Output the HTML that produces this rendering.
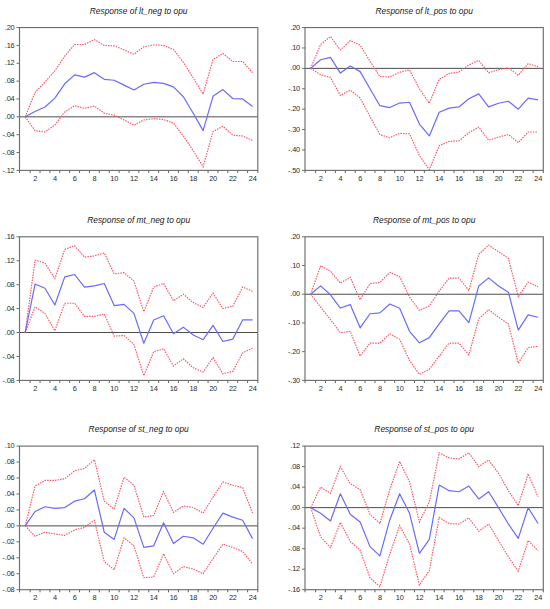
<!DOCTYPE html>
<html><head><meta charset="utf-8"><title>Impulse responses</title>
<style>
html,body{margin:0;padding:0;background:#fff;}
body{width:550px;height:609px;overflow:hidden;}
svg{display:block;}
text{font-family:"Liberation Sans",sans-serif;}
.t{font-size:8.4px;font-style:italic;text-anchor:middle;fill:#202020;}
.yl{font-size:7.4px;letter-spacing:-0.18px;text-anchor:end;fill:#2c2c2c;}
.xl{font-size:7.4px;letter-spacing:-0.18px;text-anchor:middle;fill:#2c2c2c;}
.f{stroke:#6e6e6e;stroke-width:1;}
.fx{stroke:#626262;stroke-width:1;}
.fr{fill:none;stroke:#6e6e6e;stroke-width:1.15;}
.z{stroke:#4c4c4c;stroke-width:1;}
.bl{fill:none;stroke:#6a6aff;stroke-width:1.2;stroke-linejoin:round;}
.rd{fill:none;stroke:#ff5262;stroke-width:1.15;stroke-dasharray:1.5 1.1;}
</style></head>
<body>
<svg width="550" height="609" viewBox="0 0 550 609">
<text x="138.65" y="13.65" class="t">Response of lt_neg to opu</text>
<line x1="16.50" y1="27.55" x2="19.50" y2="27.55" class="f"/>
<text x="14.50" y="29.65" class="yl">.20</text>
<line x1="16.50" y1="45.41" x2="19.50" y2="45.41" class="f"/>
<text x="14.50" y="47.51" class="yl">.16</text>
<line x1="16.50" y1="63.26" x2="19.50" y2="63.26" class="f"/>
<text x="14.50" y="65.36" class="yl">.12</text>
<line x1="16.50" y1="81.12" x2="19.50" y2="81.12" class="f"/>
<text x="14.50" y="83.22" class="yl">.08</text>
<line x1="16.50" y1="98.97" x2="19.50" y2="98.97" class="f"/>
<text x="14.50" y="101.07" class="yl">.04</text>
<line x1="16.50" y1="116.83" x2="19.50" y2="116.83" class="f"/>
<text x="14.50" y="118.93" class="yl">.00</text>
<line x1="16.50" y1="134.69" x2="19.50" y2="134.69" class="f"/>
<text x="14.50" y="136.79" class="yl">-.04</text>
<line x1="16.50" y1="152.54" x2="19.50" y2="152.54" class="f"/>
<text x="14.50" y="154.64" class="yl">-.08</text>
<line x1="16.50" y1="170.40" x2="19.50" y2="170.40" class="f"/>
<text x="14.50" y="172.50" class="yl">-.12</text>
<line x1="19.50" y1="170.40" x2="19.50" y2="173.00" class="fx"/>
<line x1="30.13" y1="170.40" x2="30.13" y2="173.00" class="fx"/>
<line x1="40.02" y1="170.40" x2="40.02" y2="173.00" class="fx"/>
<line x1="49.91" y1="170.40" x2="49.91" y2="173.00" class="fx"/>
<line x1="59.79" y1="170.40" x2="59.79" y2="173.00" class="fx"/>
<line x1="69.67" y1="170.40" x2="69.67" y2="173.00" class="fx"/>
<line x1="79.56" y1="170.40" x2="79.56" y2="173.00" class="fx"/>
<line x1="89.44" y1="170.40" x2="89.44" y2="173.00" class="fx"/>
<line x1="99.33" y1="170.40" x2="99.33" y2="173.00" class="fx"/>
<line x1="109.22" y1="170.40" x2="109.22" y2="173.00" class="fx"/>
<line x1="119.10" y1="170.40" x2="119.10" y2="173.00" class="fx"/>
<line x1="128.99" y1="170.40" x2="128.99" y2="173.00" class="fx"/>
<line x1="138.87" y1="170.40" x2="138.87" y2="173.00" class="fx"/>
<line x1="148.75" y1="170.40" x2="148.75" y2="173.00" class="fx"/>
<line x1="158.64" y1="170.40" x2="158.64" y2="173.00" class="fx"/>
<line x1="168.53" y1="170.40" x2="168.53" y2="173.00" class="fx"/>
<line x1="178.41" y1="170.40" x2="178.41" y2="173.00" class="fx"/>
<line x1="188.29" y1="170.40" x2="188.29" y2="173.00" class="fx"/>
<line x1="198.18" y1="170.40" x2="198.18" y2="173.00" class="fx"/>
<line x1="208.06" y1="170.40" x2="208.06" y2="173.00" class="fx"/>
<line x1="217.95" y1="170.40" x2="217.95" y2="173.00" class="fx"/>
<line x1="227.84" y1="170.40" x2="227.84" y2="173.00" class="fx"/>
<line x1="237.72" y1="170.40" x2="237.72" y2="173.00" class="fx"/>
<line x1="247.60" y1="170.40" x2="247.60" y2="173.00" class="fx"/>
<line x1="257.80" y1="170.40" x2="257.80" y2="173.00" class="fx"/>
<text x="35.18" y="181.00" class="xl">2</text>
<text x="54.95" y="181.00" class="xl">4</text>
<text x="74.72" y="181.00" class="xl">6</text>
<text x="94.49" y="181.00" class="xl">8</text>
<text x="114.26" y="181.00" class="xl">10</text>
<text x="134.03" y="181.00" class="xl">12</text>
<text x="153.80" y="181.00" class="xl">14</text>
<text x="173.57" y="181.00" class="xl">16</text>
<text x="193.34" y="181.00" class="xl">18</text>
<text x="213.11" y="181.00" class="xl">20</text>
<text x="232.88" y="181.00" class="xl">22</text>
<text x="252.65" y="181.00" class="xl">24</text>
<line x1="19.50" y1="116.83" x2="257.80" y2="116.83" class="z"/>
<polyline points="25.19,116.83 35.08,92.28 44.96,82.01 54.85,70.85 64.73,56.12 74.62,44.51 84.50,44.51 94.39,39.60 104.27,45.41 114.16,45.85 124.04,49.87 133.93,54.33 143.81,46.75 153.70,44.96 163.58,45.41 173.47,49.42 183.35,62.37 193.24,77.99 203.12,94.06 213.01,59.69 222.89,53.44 232.78,61.48 242.66,61.48 252.55,72.64" class="rd"/>
<polyline points="25.19,116.83 35.08,130.67 44.96,132.01 54.85,124.87 64.73,111.92 74.62,105.67 84.50,108.35 94.39,106.12 104.27,113.26 114.16,115.05 124.04,119.96 133.93,125.31 143.81,119.96 153.70,118.62 163.58,119.51 173.47,123.08 183.35,136.03 193.24,150.76 203.12,166.83 213.01,131.56 222.89,126.21 232.78,135.13 242.66,136.03 252.55,140.49" class="rd"/>
<polyline points="25.19,116.83 35.08,111.47 44.96,107.01 54.85,98.08 64.73,83.80 74.62,74.87 84.50,77.10 94.39,72.64 104.27,79.33 114.16,80.23 124.04,85.14 133.93,90.05 143.81,84.24 153.70,82.46 163.58,83.35 173.47,86.92 183.35,96.74 193.24,113.26 203.12,130.67 213.01,96.30 222.89,89.60 232.78,98.53 242.66,98.97 252.55,106.56" class="bl"/>
<rect x="19.50" y="27.55" width="238.30" height="142.85" class="fr"/>
<text x="424.15" y="13.65" class="t">Response of lt_pos to opu</text>
<line x1="302.00" y1="27.55" x2="305.00" y2="27.55" class="f"/>
<text x="300.00" y="29.65" class="yl">.20</text>
<line x1="302.00" y1="47.96" x2="305.00" y2="47.96" class="f"/>
<text x="300.00" y="50.06" class="yl">.10</text>
<line x1="302.00" y1="68.36" x2="305.00" y2="68.36" class="f"/>
<text x="300.00" y="70.46" class="yl">.00</text>
<line x1="302.00" y1="88.77" x2="305.00" y2="88.77" class="f"/>
<text x="300.00" y="90.87" class="yl">-.10</text>
<line x1="302.00" y1="109.18" x2="305.00" y2="109.18" class="f"/>
<text x="300.00" y="111.28" class="yl">-.20</text>
<line x1="302.00" y1="129.59" x2="305.00" y2="129.59" class="f"/>
<text x="300.00" y="131.69" class="yl">-.30</text>
<line x1="302.00" y1="149.99" x2="305.00" y2="149.99" class="f"/>
<text x="300.00" y="152.09" class="yl">-.40</text>
<line x1="302.00" y1="170.40" x2="305.00" y2="170.40" class="f"/>
<text x="300.00" y="172.50" class="yl">-.50</text>
<line x1="305.00" y1="170.40" x2="305.00" y2="173.00" class="fx"/>
<line x1="315.63" y1="170.40" x2="315.63" y2="173.00" class="fx"/>
<line x1="325.52" y1="170.40" x2="325.52" y2="173.00" class="fx"/>
<line x1="335.40" y1="170.40" x2="335.40" y2="173.00" class="fx"/>
<line x1="345.29" y1="170.40" x2="345.29" y2="173.00" class="fx"/>
<line x1="355.18" y1="170.40" x2="355.18" y2="173.00" class="fx"/>
<line x1="365.06" y1="170.40" x2="365.06" y2="173.00" class="fx"/>
<line x1="374.94" y1="170.40" x2="374.94" y2="173.00" class="fx"/>
<line x1="384.83" y1="170.40" x2="384.83" y2="173.00" class="fx"/>
<line x1="394.72" y1="170.40" x2="394.72" y2="173.00" class="fx"/>
<line x1="404.60" y1="170.40" x2="404.60" y2="173.00" class="fx"/>
<line x1="414.49" y1="170.40" x2="414.49" y2="173.00" class="fx"/>
<line x1="424.37" y1="170.40" x2="424.37" y2="173.00" class="fx"/>
<line x1="434.25" y1="170.40" x2="434.25" y2="173.00" class="fx"/>
<line x1="444.14" y1="170.40" x2="444.14" y2="173.00" class="fx"/>
<line x1="454.02" y1="170.40" x2="454.02" y2="173.00" class="fx"/>
<line x1="463.91" y1="170.40" x2="463.91" y2="173.00" class="fx"/>
<line x1="473.79" y1="170.40" x2="473.79" y2="173.00" class="fx"/>
<line x1="483.68" y1="170.40" x2="483.68" y2="173.00" class="fx"/>
<line x1="493.56" y1="170.40" x2="493.56" y2="173.00" class="fx"/>
<line x1="503.45" y1="170.40" x2="503.45" y2="173.00" class="fx"/>
<line x1="513.34" y1="170.40" x2="513.34" y2="173.00" class="fx"/>
<line x1="523.22" y1="170.40" x2="523.22" y2="173.00" class="fx"/>
<line x1="533.11" y1="170.40" x2="533.11" y2="173.00" class="fx"/>
<line x1="543.30" y1="170.40" x2="543.30" y2="173.00" class="fx"/>
<text x="320.68" y="181.00" class="xl">2</text>
<text x="340.45" y="181.00" class="xl">4</text>
<text x="360.22" y="181.00" class="xl">6</text>
<text x="379.99" y="181.00" class="xl">8</text>
<text x="399.76" y="181.00" class="xl">10</text>
<text x="419.53" y="181.00" class="xl">12</text>
<text x="439.30" y="181.00" class="xl">14</text>
<text x="459.07" y="181.00" class="xl">16</text>
<text x="478.84" y="181.00" class="xl">18</text>
<text x="498.61" y="181.00" class="xl">20</text>
<text x="518.38" y="181.00" class="xl">22</text>
<text x="538.15" y="181.00" class="xl">24</text>
<line x1="305.00" y1="68.36" x2="543.30" y2="68.36" class="z"/>
<polyline points="310.69,68.36 320.58,44.49 330.46,36.53 340.35,50.00 350.23,40.61 360.12,45.10 370.00,61.22 379.89,76.53 389.77,76.94 399.66,72.24 409.54,69.79 419.43,88.77 429.31,103.26 439.20,79.38 449.08,73.47 458.97,72.04 468.85,64.90 478.74,60.41 488.62,72.85 498.51,69.59 508.39,67.96 518.28,75.30 528.16,63.67 538.05,66.73" class="rd"/>
<polyline points="310.69,68.36 320.58,74.69 330.46,77.34 340.35,95.51 350.23,90.20 360.12,97.95 370.00,116.53 379.89,134.48 389.77,137.75 399.66,133.26 409.54,133.87 419.43,155.50 429.31,169.58 439.20,145.71 449.08,141.42 458.97,140.81 468.85,132.65 478.74,127.14 488.62,140.20 498.51,137.14 508.39,134.48 518.28,142.65 528.16,132.03 538.05,132.03" class="rd"/>
<polyline points="310.69,68.36 320.58,59.79 330.46,57.34 340.35,73.06 350.23,65.92 360.12,71.63 370.00,88.77 379.89,105.71 389.77,107.55 399.66,103.06 409.54,102.24 419.43,124.08 429.31,135.91 439.20,112.24 449.08,108.16 458.97,106.93 468.85,98.77 478.74,93.87 488.62,106.93 498.51,103.26 508.39,101.22 518.28,109.18 528.16,98.16 538.05,99.79" class="bl"/>
<rect x="305.00" y="27.55" width="238.30" height="142.85" class="fr"/>
<text x="138.65" y="222.90" class="t">Response of mt_neg to opu</text>
<line x1="16.50" y1="236.80" x2="19.50" y2="236.80" class="f"/>
<text x="14.50" y="238.90" class="yl">.16</text>
<line x1="16.50" y1="260.73" x2="19.50" y2="260.73" class="f"/>
<text x="14.50" y="262.83" class="yl">.12</text>
<line x1="16.50" y1="284.67" x2="19.50" y2="284.67" class="f"/>
<text x="14.50" y="286.77" class="yl">.08</text>
<line x1="16.50" y1="308.60" x2="19.50" y2="308.60" class="f"/>
<text x="14.50" y="310.70" class="yl">.04</text>
<line x1="16.50" y1="332.53" x2="19.50" y2="332.53" class="f"/>
<text x="14.50" y="334.63" class="yl">.00</text>
<line x1="16.50" y1="356.47" x2="19.50" y2="356.47" class="f"/>
<text x="14.50" y="358.57" class="yl">-.04</text>
<line x1="16.50" y1="380.40" x2="19.50" y2="380.40" class="f"/>
<text x="14.50" y="382.50" class="yl">-.08</text>
<line x1="19.50" y1="380.40" x2="19.50" y2="383.00" class="fx"/>
<line x1="30.13" y1="380.40" x2="30.13" y2="383.00" class="fx"/>
<line x1="40.02" y1="380.40" x2="40.02" y2="383.00" class="fx"/>
<line x1="49.91" y1="380.40" x2="49.91" y2="383.00" class="fx"/>
<line x1="59.79" y1="380.40" x2="59.79" y2="383.00" class="fx"/>
<line x1="69.67" y1="380.40" x2="69.67" y2="383.00" class="fx"/>
<line x1="79.56" y1="380.40" x2="79.56" y2="383.00" class="fx"/>
<line x1="89.44" y1="380.40" x2="89.44" y2="383.00" class="fx"/>
<line x1="99.33" y1="380.40" x2="99.33" y2="383.00" class="fx"/>
<line x1="109.22" y1="380.40" x2="109.22" y2="383.00" class="fx"/>
<line x1="119.10" y1="380.40" x2="119.10" y2="383.00" class="fx"/>
<line x1="128.99" y1="380.40" x2="128.99" y2="383.00" class="fx"/>
<line x1="138.87" y1="380.40" x2="138.87" y2="383.00" class="fx"/>
<line x1="148.75" y1="380.40" x2="148.75" y2="383.00" class="fx"/>
<line x1="158.64" y1="380.40" x2="158.64" y2="383.00" class="fx"/>
<line x1="168.53" y1="380.40" x2="168.53" y2="383.00" class="fx"/>
<line x1="178.41" y1="380.40" x2="178.41" y2="383.00" class="fx"/>
<line x1="188.29" y1="380.40" x2="188.29" y2="383.00" class="fx"/>
<line x1="198.18" y1="380.40" x2="198.18" y2="383.00" class="fx"/>
<line x1="208.06" y1="380.40" x2="208.06" y2="383.00" class="fx"/>
<line x1="217.95" y1="380.40" x2="217.95" y2="383.00" class="fx"/>
<line x1="227.84" y1="380.40" x2="227.84" y2="383.00" class="fx"/>
<line x1="237.72" y1="380.40" x2="237.72" y2="383.00" class="fx"/>
<line x1="247.60" y1="380.40" x2="247.60" y2="383.00" class="fx"/>
<line x1="257.80" y1="380.40" x2="257.80" y2="383.00" class="fx"/>
<text x="35.18" y="391.00" class="xl">2</text>
<text x="54.95" y="391.00" class="xl">4</text>
<text x="74.72" y="391.00" class="xl">6</text>
<text x="94.49" y="391.00" class="xl">8</text>
<text x="114.26" y="391.00" class="xl">10</text>
<text x="134.03" y="391.00" class="xl">12</text>
<text x="153.80" y="391.00" class="xl">14</text>
<text x="173.57" y="391.00" class="xl">16</text>
<text x="193.34" y="391.00" class="xl">18</text>
<text x="213.11" y="391.00" class="xl">20</text>
<text x="232.88" y="391.00" class="xl">22</text>
<text x="252.65" y="391.00" class="xl">24</text>
<line x1="19.50" y1="332.53" x2="257.80" y2="332.53" class="z"/>
<polyline points="25.19,332.53 35.08,260.13 44.96,263.13 54.85,278.68 64.73,249.37 74.62,245.78 84.50,257.14 94.39,255.95 104.27,252.96 114.16,273.90 124.04,272.70 133.93,281.08 143.81,311.59 153.70,287.06 163.58,283.47 173.47,300.82 183.35,294.24 193.24,302.62 203.12,307.40 213.01,293.04 222.89,308.60 232.78,306.21 242.66,287.06 252.55,291.25" class="rd"/>
<polyline points="25.19,332.53 35.08,306.81 44.96,313.39 54.85,330.74 64.73,303.22 74.62,303.22 84.50,316.38 94.39,316.38 104.27,313.99 114.16,336.12 124.04,335.53 133.93,344.50 143.81,375.61 153.70,351.68 163.58,348.69 173.47,366.04 183.35,358.86 193.24,367.84 203.12,372.02 213.01,357.66 222.89,373.82 232.78,371.43 242.66,352.88 252.55,348.09" class="rd"/>
<polyline points="25.19,332.53 35.08,284.07 44.96,288.26 54.85,305.01 64.73,276.89 74.62,274.50 84.50,287.06 94.39,285.86 104.27,283.47 114.16,305.61 124.04,304.41 133.93,313.39 143.81,343.30 153.70,319.97 163.58,315.78 173.47,333.73 183.35,327.15 193.24,334.93 203.12,339.71 213.01,325.35 222.89,341.51 232.78,339.12 242.66,319.97 252.55,319.97" class="bl"/>
<rect x="19.50" y="236.80" width="238.30" height="143.60" class="fr"/>
<text x="424.15" y="222.90" class="t">Response of mt_pos to opu</text>
<line x1="302.00" y1="236.80" x2="305.00" y2="236.80" class="f"/>
<text x="300.00" y="238.90" class="yl">.20</text>
<line x1="302.00" y1="265.52" x2="305.00" y2="265.52" class="f"/>
<text x="300.00" y="267.62" class="yl">.10</text>
<line x1="302.00" y1="294.24" x2="305.00" y2="294.24" class="f"/>
<text x="300.00" y="296.34" class="yl">.00</text>
<line x1="302.00" y1="322.96" x2="305.00" y2="322.96" class="f"/>
<text x="300.00" y="325.06" class="yl">-.10</text>
<line x1="302.00" y1="351.68" x2="305.00" y2="351.68" class="f"/>
<text x="300.00" y="353.78" class="yl">-.20</text>
<line x1="302.00" y1="380.40" x2="305.00" y2="380.40" class="f"/>
<text x="300.00" y="382.50" class="yl">-.30</text>
<line x1="305.00" y1="380.40" x2="305.00" y2="383.00" class="fx"/>
<line x1="315.63" y1="380.40" x2="315.63" y2="383.00" class="fx"/>
<line x1="325.52" y1="380.40" x2="325.52" y2="383.00" class="fx"/>
<line x1="335.40" y1="380.40" x2="335.40" y2="383.00" class="fx"/>
<line x1="345.29" y1="380.40" x2="345.29" y2="383.00" class="fx"/>
<line x1="355.18" y1="380.40" x2="355.18" y2="383.00" class="fx"/>
<line x1="365.06" y1="380.40" x2="365.06" y2="383.00" class="fx"/>
<line x1="374.94" y1="380.40" x2="374.94" y2="383.00" class="fx"/>
<line x1="384.83" y1="380.40" x2="384.83" y2="383.00" class="fx"/>
<line x1="394.72" y1="380.40" x2="394.72" y2="383.00" class="fx"/>
<line x1="404.60" y1="380.40" x2="404.60" y2="383.00" class="fx"/>
<line x1="414.49" y1="380.40" x2="414.49" y2="383.00" class="fx"/>
<line x1="424.37" y1="380.40" x2="424.37" y2="383.00" class="fx"/>
<line x1="434.25" y1="380.40" x2="434.25" y2="383.00" class="fx"/>
<line x1="444.14" y1="380.40" x2="444.14" y2="383.00" class="fx"/>
<line x1="454.02" y1="380.40" x2="454.02" y2="383.00" class="fx"/>
<line x1="463.91" y1="380.40" x2="463.91" y2="383.00" class="fx"/>
<line x1="473.79" y1="380.40" x2="473.79" y2="383.00" class="fx"/>
<line x1="483.68" y1="380.40" x2="483.68" y2="383.00" class="fx"/>
<line x1="493.56" y1="380.40" x2="493.56" y2="383.00" class="fx"/>
<line x1="503.45" y1="380.40" x2="503.45" y2="383.00" class="fx"/>
<line x1="513.34" y1="380.40" x2="513.34" y2="383.00" class="fx"/>
<line x1="523.22" y1="380.40" x2="523.22" y2="383.00" class="fx"/>
<line x1="533.11" y1="380.40" x2="533.11" y2="383.00" class="fx"/>
<line x1="543.30" y1="380.40" x2="543.30" y2="383.00" class="fx"/>
<text x="320.68" y="391.00" class="xl">2</text>
<text x="340.45" y="391.00" class="xl">4</text>
<text x="360.22" y="391.00" class="xl">6</text>
<text x="379.99" y="391.00" class="xl">8</text>
<text x="399.76" y="391.00" class="xl">10</text>
<text x="419.53" y="391.00" class="xl">12</text>
<text x="439.30" y="391.00" class="xl">14</text>
<text x="459.07" y="391.00" class="xl">16</text>
<text x="478.84" y="391.00" class="xl">18</text>
<text x="498.61" y="391.00" class="xl">20</text>
<text x="518.38" y="391.00" class="xl">22</text>
<text x="538.15" y="391.00" class="xl">24</text>
<line x1="305.00" y1="294.24" x2="543.30" y2="294.24" class="z"/>
<polyline points="310.69,294.24 320.58,265.81 330.46,271.26 340.35,283.04 350.23,277.30 360.12,299.70 370.00,283.61 379.89,282.46 389.77,272.41 399.66,276.72 409.54,297.11 419.43,310.32 429.31,306.02 439.20,291.08 449.08,278.16 458.97,278.16 468.85,290.51 478.74,254.32 488.62,245.13 498.51,251.73 508.39,258.34 518.28,296.54 528.16,282.18 538.05,286.77" class="rd"/>
<polyline points="310.69,294.24 320.58,307.16 330.46,319.51 340.35,332.72 350.23,331.29 360.12,355.99 370.00,343.06 379.89,343.06 389.77,333.87 399.66,339.33 409.54,360.58 419.43,374.37 429.31,369.20 439.20,355.99 449.08,343.06 458.97,343.06 468.85,354.84 478.74,318.94 488.62,309.75 498.51,317.22 508.39,323.82 518.28,363.17 528.16,347.66 538.05,346.22" class="rd"/>
<polyline points="310.69,294.24 320.58,285.91 330.46,294.81 340.35,308.03 350.23,304.58 360.12,327.84 370.00,313.77 379.89,312.91 389.77,304.00 399.66,308.31 409.54,331.29 419.43,342.78 429.31,337.61 439.20,323.82 449.08,310.90 458.97,310.90 468.85,322.67 478.74,285.91 488.62,277.87 498.51,285.91 508.39,292.23 518.28,330.14 528.16,314.92 538.05,317.22" class="bl"/>
<rect x="305.00" y="236.80" width="238.30" height="143.60" class="fr"/>
<text x="138.65" y="432.20" class="t">Response of st_neg to opu</text>
<line x1="16.50" y1="446.10" x2="19.50" y2="446.10" class="f"/>
<text x="14.50" y="448.20" class="yl">.10</text>
<line x1="16.50" y1="462.06" x2="19.50" y2="462.06" class="f"/>
<text x="14.50" y="464.16" class="yl">.08</text>
<line x1="16.50" y1="478.01" x2="19.50" y2="478.01" class="f"/>
<text x="14.50" y="480.11" class="yl">.06</text>
<line x1="16.50" y1="493.97" x2="19.50" y2="493.97" class="f"/>
<text x="14.50" y="496.07" class="yl">.04</text>
<line x1="16.50" y1="509.92" x2="19.50" y2="509.92" class="f"/>
<text x="14.50" y="512.02" class="yl">.02</text>
<line x1="16.50" y1="525.88" x2="19.50" y2="525.88" class="f"/>
<text x="14.50" y="527.98" class="yl">.00</text>
<line x1="16.50" y1="541.83" x2="19.50" y2="541.83" class="f"/>
<text x="14.50" y="543.93" class="yl">-.02</text>
<line x1="16.50" y1="557.79" x2="19.50" y2="557.79" class="f"/>
<text x="14.50" y="559.89" class="yl">-.04</text>
<line x1="16.50" y1="573.74" x2="19.50" y2="573.74" class="f"/>
<text x="14.50" y="575.84" class="yl">-.06</text>
<line x1="16.50" y1="589.70" x2="19.50" y2="589.70" class="f"/>
<text x="14.50" y="591.80" class="yl">-.08</text>
<line x1="19.50" y1="589.70" x2="19.50" y2="592.30" class="fx"/>
<line x1="30.13" y1="589.70" x2="30.13" y2="592.30" class="fx"/>
<line x1="40.02" y1="589.70" x2="40.02" y2="592.30" class="fx"/>
<line x1="49.91" y1="589.70" x2="49.91" y2="592.30" class="fx"/>
<line x1="59.79" y1="589.70" x2="59.79" y2="592.30" class="fx"/>
<line x1="69.67" y1="589.70" x2="69.67" y2="592.30" class="fx"/>
<line x1="79.56" y1="589.70" x2="79.56" y2="592.30" class="fx"/>
<line x1="89.44" y1="589.70" x2="89.44" y2="592.30" class="fx"/>
<line x1="99.33" y1="589.70" x2="99.33" y2="592.30" class="fx"/>
<line x1="109.22" y1="589.70" x2="109.22" y2="592.30" class="fx"/>
<line x1="119.10" y1="589.70" x2="119.10" y2="592.30" class="fx"/>
<line x1="128.99" y1="589.70" x2="128.99" y2="592.30" class="fx"/>
<line x1="138.87" y1="589.70" x2="138.87" y2="592.30" class="fx"/>
<line x1="148.75" y1="589.70" x2="148.75" y2="592.30" class="fx"/>
<line x1="158.64" y1="589.70" x2="158.64" y2="592.30" class="fx"/>
<line x1="168.53" y1="589.70" x2="168.53" y2="592.30" class="fx"/>
<line x1="178.41" y1="589.70" x2="178.41" y2="592.30" class="fx"/>
<line x1="188.29" y1="589.70" x2="188.29" y2="592.30" class="fx"/>
<line x1="198.18" y1="589.70" x2="198.18" y2="592.30" class="fx"/>
<line x1="208.06" y1="589.70" x2="208.06" y2="592.30" class="fx"/>
<line x1="217.95" y1="589.70" x2="217.95" y2="592.30" class="fx"/>
<line x1="227.84" y1="589.70" x2="227.84" y2="592.30" class="fx"/>
<line x1="237.72" y1="589.70" x2="237.72" y2="592.30" class="fx"/>
<line x1="247.60" y1="589.70" x2="247.60" y2="592.30" class="fx"/>
<line x1="257.80" y1="589.70" x2="257.80" y2="592.30" class="fx"/>
<text x="35.18" y="600.30" class="xl">2</text>
<text x="54.95" y="600.30" class="xl">4</text>
<text x="74.72" y="600.30" class="xl">6</text>
<text x="94.49" y="600.30" class="xl">8</text>
<text x="114.26" y="600.30" class="xl">10</text>
<text x="134.03" y="600.30" class="xl">12</text>
<text x="153.80" y="600.30" class="xl">14</text>
<text x="173.57" y="600.30" class="xl">16</text>
<text x="193.34" y="600.30" class="xl">18</text>
<text x="213.11" y="600.30" class="xl">20</text>
<text x="232.88" y="600.30" class="xl">22</text>
<text x="252.65" y="600.30" class="xl">24</text>
<line x1="19.50" y1="525.88" x2="257.80" y2="525.88" class="z"/>
<polyline points="25.19,525.88 35.08,485.99 44.96,480.40 54.85,480.40 64.73,478.81 74.62,470.83 84.50,468.44 94.39,459.66 104.27,501.15 114.16,509.12 124.04,477.21 133.93,485.19 143.81,517.10 153.70,515.51 163.58,491.57 173.47,512.32 183.35,505.93 193.24,507.53 203.12,513.11 213.01,497.16 222.89,482.00 232.78,485.19 242.66,487.58 252.55,513.11" class="rd"/>
<polyline points="25.19,525.88 35.08,536.25 44.96,532.26 54.85,533.86 64.73,535.45 74.62,529.87 84.50,527.47 94.39,520.29 104.27,561.78 114.16,569.76 124.04,537.84 133.93,545.82 143.81,577.73 153.70,576.94 163.58,553.80 173.47,573.74 183.35,566.56 193.24,568.96 203.12,573.74 213.01,558.59 222.89,544.23 232.78,547.42 242.66,551.41 252.55,564.17" class="rd"/>
<polyline points="25.19,525.88 35.08,511.52 44.96,506.73 54.85,508.33 64.73,507.53 74.62,501.15 84.50,498.75 94.39,489.98 104.27,532.26 114.16,539.44 124.04,508.33 133.93,517.90 143.81,547.42 153.70,545.82 163.58,522.69 173.47,543.43 183.35,536.25 193.24,537.84 203.12,544.23 213.01,528.27 222.89,513.11 232.78,517.10 242.66,520.29 252.55,538.64" class="bl"/>
<rect x="19.50" y="446.10" width="238.30" height="143.60" class="fr"/>
<text x="424.15" y="432.20" class="t">Response of st_pos to opu</text>
<line x1="302.00" y1="446.10" x2="305.00" y2="446.10" class="f"/>
<text x="300.00" y="448.20" class="yl">.12</text>
<line x1="302.00" y1="466.61" x2="305.00" y2="466.61" class="f"/>
<text x="300.00" y="468.71" class="yl">.08</text>
<line x1="302.00" y1="487.13" x2="305.00" y2="487.13" class="f"/>
<text x="300.00" y="489.23" class="yl">.04</text>
<line x1="302.00" y1="507.64" x2="305.00" y2="507.64" class="f"/>
<text x="300.00" y="509.74" class="yl">.00</text>
<line x1="302.00" y1="528.16" x2="305.00" y2="528.16" class="f"/>
<text x="300.00" y="530.26" class="yl">-.04</text>
<line x1="302.00" y1="548.67" x2="305.00" y2="548.67" class="f"/>
<text x="300.00" y="550.77" class="yl">-.08</text>
<line x1="302.00" y1="569.19" x2="305.00" y2="569.19" class="f"/>
<text x="300.00" y="571.29" class="yl">-.12</text>
<line x1="302.00" y1="589.70" x2="305.00" y2="589.70" class="f"/>
<text x="300.00" y="591.80" class="yl">-.16</text>
<line x1="305.00" y1="589.70" x2="305.00" y2="592.30" class="fx"/>
<line x1="315.63" y1="589.70" x2="315.63" y2="592.30" class="fx"/>
<line x1="325.52" y1="589.70" x2="325.52" y2="592.30" class="fx"/>
<line x1="335.40" y1="589.70" x2="335.40" y2="592.30" class="fx"/>
<line x1="345.29" y1="589.70" x2="345.29" y2="592.30" class="fx"/>
<line x1="355.18" y1="589.70" x2="355.18" y2="592.30" class="fx"/>
<line x1="365.06" y1="589.70" x2="365.06" y2="592.30" class="fx"/>
<line x1="374.94" y1="589.70" x2="374.94" y2="592.30" class="fx"/>
<line x1="384.83" y1="589.70" x2="384.83" y2="592.30" class="fx"/>
<line x1="394.72" y1="589.70" x2="394.72" y2="592.30" class="fx"/>
<line x1="404.60" y1="589.70" x2="404.60" y2="592.30" class="fx"/>
<line x1="414.49" y1="589.70" x2="414.49" y2="592.30" class="fx"/>
<line x1="424.37" y1="589.70" x2="424.37" y2="592.30" class="fx"/>
<line x1="434.25" y1="589.70" x2="434.25" y2="592.30" class="fx"/>
<line x1="444.14" y1="589.70" x2="444.14" y2="592.30" class="fx"/>
<line x1="454.02" y1="589.70" x2="454.02" y2="592.30" class="fx"/>
<line x1="463.91" y1="589.70" x2="463.91" y2="592.30" class="fx"/>
<line x1="473.79" y1="589.70" x2="473.79" y2="592.30" class="fx"/>
<line x1="483.68" y1="589.70" x2="483.68" y2="592.30" class="fx"/>
<line x1="493.56" y1="589.70" x2="493.56" y2="592.30" class="fx"/>
<line x1="503.45" y1="589.70" x2="503.45" y2="592.30" class="fx"/>
<line x1="513.34" y1="589.70" x2="513.34" y2="592.30" class="fx"/>
<line x1="523.22" y1="589.70" x2="523.22" y2="592.30" class="fx"/>
<line x1="533.11" y1="589.70" x2="533.11" y2="592.30" class="fx"/>
<line x1="543.30" y1="589.70" x2="543.30" y2="592.30" class="fx"/>
<text x="320.68" y="600.30" class="xl">2</text>
<text x="340.45" y="600.30" class="xl">4</text>
<text x="360.22" y="600.30" class="xl">6</text>
<text x="379.99" y="600.30" class="xl">8</text>
<text x="399.76" y="600.30" class="xl">10</text>
<text x="419.53" y="600.30" class="xl">12</text>
<text x="439.30" y="600.30" class="xl">14</text>
<text x="459.07" y="600.30" class="xl">16</text>
<text x="478.84" y="600.30" class="xl">18</text>
<text x="498.61" y="600.30" class="xl">20</text>
<text x="518.38" y="600.30" class="xl">22</text>
<text x="538.15" y="600.30" class="xl">24</text>
<line x1="305.00" y1="507.64" x2="543.30" y2="507.64" class="z"/>
<polyline points="310.69,507.64 320.58,487.13 330.46,493.28 340.35,466.61 350.23,483.54 360.12,489.69 370.00,514.31 379.89,523.54 389.77,489.69 399.66,461.49 409.54,482.00 419.43,522.00 429.31,502.00 439.20,452.77 449.08,457.90 458.97,458.92 468.85,452.77 478.74,466.61 488.62,459.95 498.51,473.28 508.39,490.72 518.28,505.59 528.16,473.79 538.05,496.87" class="rd"/>
<polyline points="310.69,507.64 320.58,536.88 330.46,547.65 340.35,522.52 350.23,541.49 360.12,550.21 370.00,577.90 379.89,586.62 389.77,554.31 399.66,525.59 409.54,544.06 419.43,585.08 429.31,570.72 439.20,517.39 449.08,523.54 458.97,524.05 468.85,517.90 478.74,531.23 488.62,524.05 498.51,540.47 508.39,556.88 518.28,571.24 528.16,540.47 538.05,550.72" class="rd"/>
<polyline points="310.69,507.64 320.58,513.28 330.46,520.98 340.35,493.80 350.23,514.31 360.12,522.00 370.00,546.62 379.89,555.85 389.77,519.95 399.66,493.80 409.54,513.28 419.43,553.29 429.31,539.44 439.20,485.08 449.08,490.72 458.97,491.74 468.85,486.10 478.74,498.92 488.62,491.74 498.51,507.64 508.39,524.05 518.28,538.41 528.16,507.64 538.05,523.54" class="bl"/>
<rect x="305.00" y="446.10" width="238.30" height="143.60" class="fr"/>
</svg>
</body></html>
